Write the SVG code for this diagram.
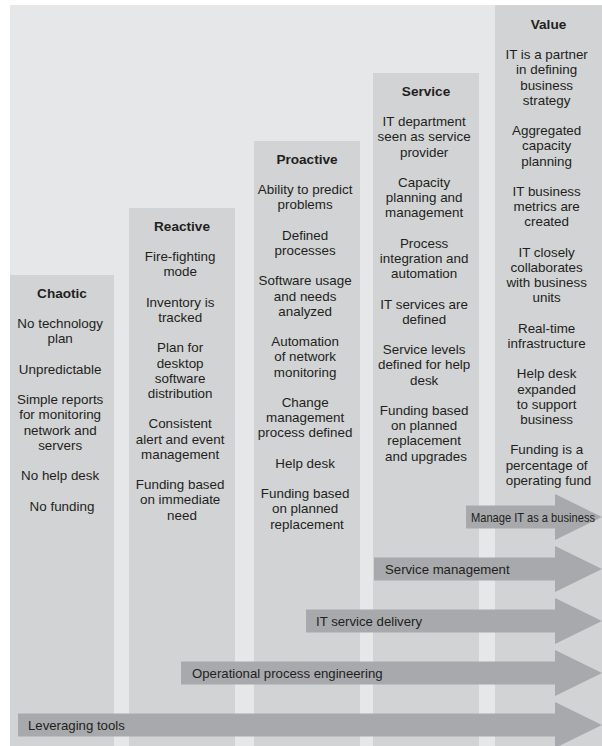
<svg xmlns="http://www.w3.org/2000/svg" width="602" height="746" viewBox="0 0 602 746">
<style>
  .bg { fill: #e6e7e8; }
  .col { fill: #d1d3d4; }
  .arrow { fill: #a7a9ac; }
  text { font-family: "Liberation Sans", Arial, sans-serif; fill: #231f20; }
  .t { font-size: 13.4px; text-anchor: middle; }
  .h { font-size: 13.6px; font-weight: bold; text-anchor: middle; }
  .a { font-size: 13.2px; }
</style>
<rect x="0" y="0" width="602" height="746" fill="#ffffff"/>
<rect class="bg" x="10" y="5" width="592" height="741"/>

<g id="chaotic">
  <rect class="col" x="10" y="275" width="104" height="471"/>
  <text class="h" x="62" y="297.7">Chaotic</text>
  <text class="t" y="328.1">
    <tspan x="62">No technology</tspan>
    <tspan x="62" dy="15.2">plan</tspan>
    <tspan x="62" dy="30.4">Unpredictable</tspan>
    <tspan x="62" dy="30.4">Simple reports</tspan>
    <tspan x="62" dy="15.2">for monitoring</tspan>
    <tspan x="62" dy="15.2">network and</tspan>
    <tspan x="62" dy="15.2">servers</tspan>
    <tspan x="62" dy="30.4">No help desk</tspan>
    <tspan x="62" dy="30.4">No funding</tspan>
  </text>
</g>

<g id="reactive">
  <rect class="col" x="129" y="208" width="106" height="538"/>
  <text class="h" x="182" y="230.7">Reactive</text>
  <text class="t" y="261.1">
    <tspan x="182">Fire-fighting</tspan>
    <tspan x="182" dy="15.2">mode</tspan>
    <tspan x="182" dy="30.4">Inventory is</tspan>
    <tspan x="182" dy="15.2">tracked</tspan>
    <tspan x="182" dy="30.4">Plan for</tspan>
    <tspan x="182" dy="15.2">desktop</tspan>
    <tspan x="182" dy="15.2">software</tspan>
    <tspan x="182" dy="15.2">distribution</tspan>
    <tspan x="182" dy="30.4">Consistent</tspan>
    <tspan x="182" dy="15.2">alert and event</tspan>
    <tspan x="182" dy="15.2">management</tspan>
    <tspan x="182" dy="30.4">Funding based</tspan>
    <tspan x="182" dy="15.2">on immediate</tspan>
    <tspan x="182" dy="15.2">need</tspan>
  </text>
</g>

<g id="proactive">
  <rect class="col" x="254" y="141" width="106" height="605"/>
  <text class="h" x="307" y="163.7">Proactive</text>
  <text class="t" y="194.1">
    <tspan x="307">Ability to predict</tspan>
    <tspan x="307" dy="15.2">problems</tspan>
    <tspan x="307" dy="30.4">Defined</tspan>
    <tspan x="307" dy="15.2">processes</tspan>
    <tspan x="307" dy="30.4">Software usage</tspan>
    <tspan x="307" dy="15.2">and needs</tspan>
    <tspan x="307" dy="15.2">analyzed</tspan>
    <tspan x="307" dy="30.4">Automation</tspan>
    <tspan x="307" dy="15.2">of network</tspan>
    <tspan x="307" dy="15.2">monitoring</tspan>
    <tspan x="307" dy="30.4">Change</tspan>
    <tspan x="307" dy="15.2">management</tspan>
    <tspan x="307" dy="15.2">process defined</tspan>
    <tspan x="307" dy="30.4">Help desk</tspan>
    <tspan x="307" dy="30.4">Funding based</tspan>
    <tspan x="307" dy="15.2">on planned</tspan>
    <tspan x="307" dy="15.2">replacement</tspan>
  </text>
</g>

<g id="service">
  <rect class="col" x="373" y="73" width="106" height="673"/>
  <text class="h" x="426" y="95.7">Service</text>
  <text class="t" y="126.1">
    <tspan x="426">IT department</tspan>
    <tspan x="426" dy="15.2">seen as service</tspan>
    <tspan x="426" dy="15.2">provider</tspan>
    <tspan x="426" dy="30.4">Capacity</tspan>
    <tspan x="426" dy="15.2">planning and</tspan>
    <tspan x="426" dy="15.2">management</tspan>
    <tspan x="426" dy="30.4">Process</tspan>
    <tspan x="426" dy="15.2">integration and</tspan>
    <tspan x="426" dy="15.2">automation</tspan>
    <tspan x="426" dy="30.4">IT services are</tspan>
    <tspan x="426" dy="15.2">defined</tspan>
    <tspan x="426" dy="30.4">Service levels</tspan>
    <tspan x="426" dy="15.2">defined for help</tspan>
    <tspan x="426" dy="15.2">desk</tspan>
    <tspan x="426" dy="30.4">Funding based</tspan>
    <tspan x="426" dy="15.2">on planned</tspan>
    <tspan x="426" dy="15.2">replacement</tspan>
    <tspan x="426" dy="15.2">and upgrades</tspan>
  </text>
</g>

<g id="value">
  <rect class="col" x="495" y="5" width="107" height="741"/>
  <text class="h" x="548.5" y="28.7">Value</text>
  <text class="t" y="59.1">
    <tspan x="548.5">IT is a partner</tspan>
    <tspan x="548.5" dy="15.2">in defining</tspan>
    <tspan x="548.5" dy="15.2">business</tspan>
    <tspan x="548.5" dy="15.2">strategy</tspan>
    <tspan x="548.5" dy="30.4">Aggregated</tspan>
    <tspan x="548.5" dy="15.2">capacity</tspan>
    <tspan x="548.5" dy="15.2">planning</tspan>
    <tspan x="548.5" dy="30.4">IT business</tspan>
    <tspan x="548.5" dy="15.2">metrics are</tspan>
    <tspan x="548.5" dy="15.2">created</tspan>
    <tspan x="548.5" dy="30.4">IT closely</tspan>
    <tspan x="548.5" dy="15.2">collaborates</tspan>
    <tspan x="548.5" dy="15.2">with business</tspan>
    <tspan x="548.5" dy="15.2">units</tspan>
    <tspan x="548.5" dy="30.4">Real-time</tspan>
    <tspan x="548.5" dy="15.2">infrastructure</tspan>
    <tspan x="548.5" dy="30.4">Help desk</tspan>
    <tspan x="548.5" dy="15.2">expanded</tspan>
    <tspan x="548.5" dy="15.2">to support</tspan>
    <tspan x="548.5" dy="15.2">business</tspan>
    <tspan x="548.5" dy="30.4">Funding is a</tspan>
    <tspan x="548.5" dy="15.2">percentage of</tspan>
    <tspan x="548.5" dy="15.2">operating fund</tspan>
  </text>
</g>

<g id="connectors">
  <g id="arrow-manage-it">
    <path class="arrow" d="M466,505.5 H555 V494 L602,517 L555,540 V528.5 H466 Z"/>
    <text class="a" x="471" y="521.7" textLength="124" lengthAdjust="spacingAndGlyphs">Manage IT as a business</text>
  </g>
  <g id="arrow-service-management">
    <path class="arrow" d="M374,557.5 H555 V546 L602,569 L555,592 V580.5 H374 Z"/>
    <text class="a" x="385" y="573.7">Service management</text>
  </g>
  <g id="arrow-it-service-delivery">
    <path class="arrow" d="M306,609.5 H555 V598 L602,621 L555,644 V632.5 H306 Z"/>
    <text class="a" x="316" y="625.7">IT service delivery</text>
  </g>
  <g id="arrow-operational">
    <path class="arrow" d="M181,661.5 H555 V650 L602,673 L555,696 V684.5 H181 Z"/>
    <text class="a" x="192" y="677.7">Operational process engineering</text>
  </g>
  <g id="arrow-leveraging">
    <path class="arrow" d="M18,713.5 H555 V702 L602,725 L555,748 V736.5 H18 Z"/>
    <text class="a" x="28" y="729.7">Leveraging tools</text>
  </g>
</g>
</svg>
